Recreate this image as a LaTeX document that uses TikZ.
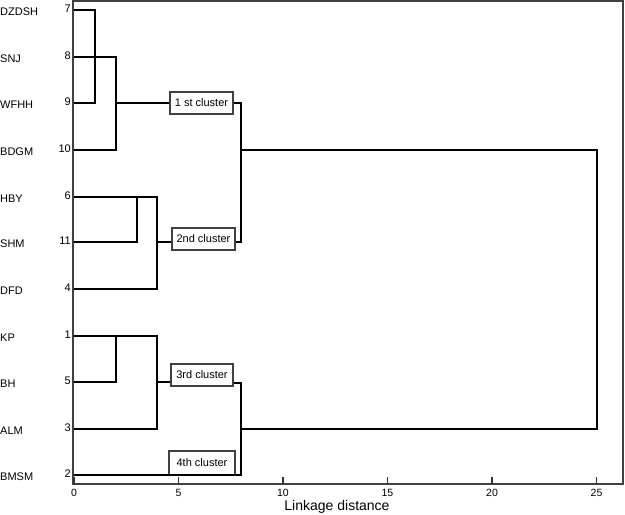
\documentclass[tikz,border=0pt]{standalone}
\usepackage{fontspec}
\setmainfont{Liberation Sans}
\begin{document}
\begin{tikzpicture}[x=1pt,y=-1pt,
  lbl/.style={font=\fontsize{11}{12}\selectfont, inner sep=0pt, anchor=west},
  num/.style={font=\fontsize{11}{12}\selectfont, inner sep=0pt, anchor=east},
  tick/.style={font=\fontsize{10.5}{12}\selectfont, inner sep=0pt},
  den/.style={line width=1.3pt, black},
  frame/.style={line width=2pt, black!75},
  clbox/.style={draw=black!75, line width=1.5pt, fill=white, inner sep=0pt,
    minimum height=22pt, font=\fontsize{11}{12}\selectfont}]
\useasboundingbox (0,0) rectangle (625,515);
% leaf names
\foreach \n/\y in {DZDSH/10,SNJ/57,WFHH/103,BDGM/150,HBY/197,SHM/242,DFD/289,KP/336,BH/382,ALM/429,BMSM/475}
  \node[lbl] (n\n) at (0,\y+2) {\n};
% leaf numbers and leaf coordinates
\foreach \k/\y in {7/10,8/57,9/103,10/150,6/197,11/242,4/289,1/336,5/382,3/429,2/475}{
  \node[num] (l\k) at (71,\y-1) {\k};
  \coordinate (p\k) at (74,\y);
}
% cluster boxes
\node[clbox, minimum width=63pt] (c1) at (201.5,103) {1 st cluster};
\node[clbox, minimum width=63pt] (c2) at (203.5,239) {2nd cluster};
\node[clbox, minimum width=62pt] (c3) at (202,375) {3rd cluster};
\node[clbox, minimum width=66pt, minimum height=24pt] (c4) at (202,463) {4th cluster};
% merge coordinates
\coordinate (m79) at (95,10);
\coordinate (m79b) at (95,103);
\coordinate (m8a) at (116,57);
\coordinate (m8b) at (116,150);
\coordinate (m8c) at (116,103);
\coordinate (k1t) at (241,103);
\coordinate (k1b) at (241,242);
\coordinate (k1m) at (241,150);
\coordinate (r1) at (597,150);
\coordinate (r2) at (597,429);
\coordinate (k2m) at (241,429);
\coordinate (k2t) at (241,383);
\coordinate (k2b) at (241,475);
\coordinate (m611a) at (137,197);
\coordinate (m611b) at (137,242);
\coordinate (m4a) at (157,197);
\coordinate (m4b) at (157,289);
\coordinate (m4c) at (157,242);
\coordinate (m15a) at (116,336);
\coordinate (m15b) at (116,382);
\coordinate (m3a) at (157,336);
\coordinate (m3b) at (157,429);
\coordinate (m3c) at (157,382);
% dendrogram
\draw[den] (p7) -- (m79) -- (m79b) -- (p9);
\draw[den] (p8) -- (m8a) -- (m8b) -- (p10);
\draw[den] (m8c) -- (c1.west);
\draw[den] (c1.east) -- (k1t) -- (k1b) -- (c2.east |- k1b);
\draw[den] (k1m) -- (r1) -- (r2) -- (k2m);
\draw[den] (p6) -- (m4a) -- (m4b) -- (p4);
\draw[den] (m611a) -- (m611b) -- (p11);
\draw[den] (m4c) -- (c2.west |- m4c);
\draw[den] (p1) -- (m3a) -- (m3b) -- (p3);
\draw[den] (m15a) -- (m15b) -- (p5);
\draw[den] (m3c) -- (c3.west |- m3c);
\draw[den] (c3.east |- k2t) -- (k2t) -- (k2b) -- (p2);
% frame
\draw[frame] (73,1) rectangle (623,484);
% ticks
\foreach \v in {0,5,10,15,20,25}{
  \draw[line width=1.2pt, black!80] ({74+20.9*\v},484) -- ({74+20.9*\v},477);
  \node[tick] (t\v) at ({74+20.9*\v},493) {\v};
}
\node[font=\fontsize{14}{16}\selectfont, inner sep=0pt] (xl) at (337,507) {Linkage distance};
\end{tikzpicture}
\end{document}
